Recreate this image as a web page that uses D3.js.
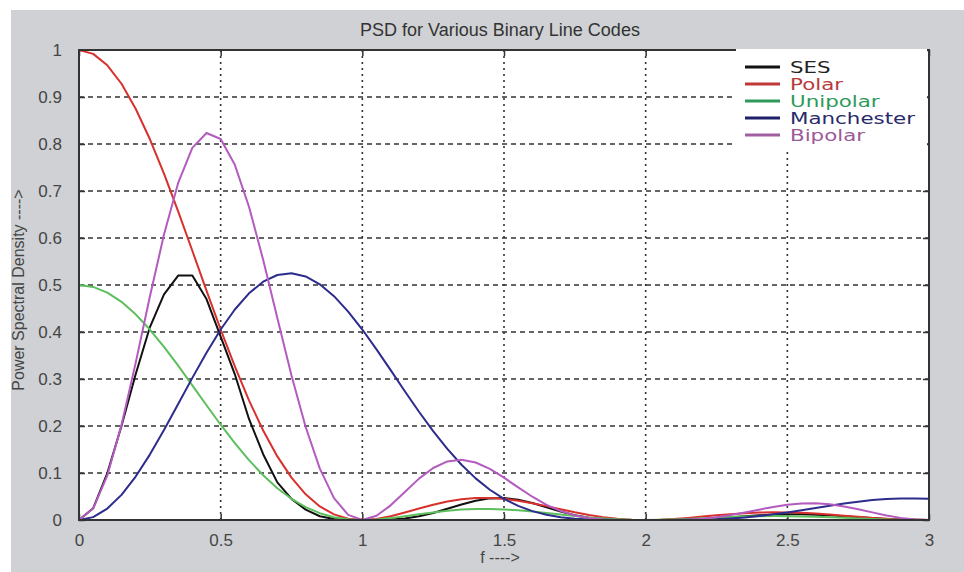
<!DOCTYPE html>
<html>
<head>
<meta charset="utf-8">
<script src="https://cdn.jsdelivr.net/npm/d3@7"></script>
<style>
  html, body { margin: 0; padding: 0; background: #ffffff; }
  svg { display: block; }
</style>
</head>
<body>
<svg id="chart" width="964" height="572"></svg>
<script>
// ---------- data ----------
const title = "PSD for Various Binary Line Codes";
const xLabel = "f ---->";
const yLabel = "Power Spectral Density ---->";

const freq = [0,0.05,0.1,0.15,0.2,0.25,0.3,0.35,0.4,0.45,0.5,
  0.55,0.6,0.65,0.7,0.75,0.8,0.85,0.9,0.95,1.0,
  1.05,1.1,1.15,1.2,1.25,1.3,1.35,1.4,1.45,1.5,
  1.55,1.6,1.65,1.7,1.75,1.8,1.85,1.9,1.95,2.0,
  2.05,2.1,2.15,2.2,2.25,2.3,2.35,2.4,2.45,2.5,
  2.55,2.6,2.65,2.7,2.75,2.8,2.85,2.9,2.95,3.0];

const seriesNames = ["SES","Polar","Unipolar","Manchester","Bipolar"];

const ses = [0,0.025,0.10,0.20,0.31,0.41,0.48,0.52,0.52,0.47,0.39,
  0.31,0.215,0.14,0.08,0.045,0.022,0.008,0.002,0.0005,0,
  0,0.001,0.003,0.008,0.015,0.024,0.033,0.041,0.046,0.047,
  0.043,0.036,0.027,0.018,0.010,0.005,0.002,0.0005,0,0,
  0,0.0005,0.001,0.002,0.004,0.006,0.008,0.010,0.011,0.012,
  0.012,0.011,0.010,0.008,0.006,0.004,0.002,0.001,0.0003,0];

const polar = [1,0.9918,0.9675,0.9282,0.8751,0.8106,0.7368,0.6566,0.5728,0.4881,0.4053,
  0.3267,0.2546,0.1904,0.1353,0.0901,0.0547,0.0289,0.0119,0.0027,0,
  0.0023,0.0080,0.0158,0.0243,0.0324,0.0392,0.0441,0.0468,0.0470,0.0450,
  0.0411,0.0358,0.0295,0.0229,0.0165,0.0108,0.0061,0.0027,0.0007,0,
  0.0006,0.0022,0.0045,0.0072,0.0100,0.0125,0.0146,0.0159,0.0165,0.0162,
  0.0152,0.0136,0.0115,0.0091,0.0067,0.0045,0.0026,0.0011,0.0003,0];

const unipolar = [0.5,0.4959,0.4838,0.4641,0.4376,0.4053,0.3684,0.3283,0.2864,0.2441,0.2027,
  0.1634,0.1273,0.0952,0.0677,0.0451,0.0274,0.0145,0.0060,0.0014,0,
  0.0011,0.0040,0.0079,0.0122,0.0162,0.0196,0.0221,0.0234,0.0235,0.0225,
  0.0206,0.0179,0.0148,0.0115,0.0083,0.0054,0.0031,0.0014,0.0003,0,
  0.0003,0.0011,0.0023,0.0036,0.0050,0.0063,0.0073,0.0080,0.0083,0.0081,
  0.0076,0.0068,0.0058,0.0046,0.0034,0.0023,0.0013,0.0006,0.0002,0];

const manchester = [0,0.0061,0.0243,0.0535,0.0924,0.1391,0.1913,0.2466,0.3024,0.3560,0.4053,
  0.4479,0.4823,0.5070,0.5213,0.5250,0.5181,0.5015,0.4762,0.4435,0.4053,
  0.3631,0.3188,0.2740,0.2303,0.1890,0.1512,0.1175,0.0886,0.0644,0.0450,
  0.0300,0.0189,0.0111,0.0060,0.0028,0.0011,0.0004,0.0001,0,0,
  0,0.0001,0.0003,0.0008,0.0017,0.0033,0.0055,0.0084,0.0120,0.0162,
  0.0208,0.0257,0.0305,0.0350,0.0390,0.0423,0.0446,0.0459,0.0460,0.0450];

const bipolar = [0,0.0244,0.0948,0.2023,0.3343,0.4749,0.6075,0.7171,0.7917,0.8234,0.8106,
  0.7557,0.6665,0.5536,0.4298,0.3075,0.1979,0.1093,0.0466,0.0109,0,
  0.0089,0.0312,0.0597,0.0880,0.1107,0.1247,0.1283,0.1224,0.1087,0.0900,
  0.0694,0.0495,0.0323,0.0191,0.0096,0.0041,0.0013,0.0003,0,0,
  0,0.0002,0.0010,0.0027,0.0058,0.0105,0.0160,0.0220,0.0278,0.0324,
  0.0351,0.0355,0.0333,0.0289,0.0228,0.0162,0.0097,0.0045,0.0011,0];

const xTicks = [0,0.5,1,1.5,2,2.5,3];
const xTickLabels = ["0","0.5","1","1.5","2","2.5","3"];
const yTicks = [0,0.1,0.2,0.3,0.4,0.5,0.6,0.7,0.8,0.9,1];
const yTickLabels = ["0","0.1","0.2","0.3","0.4","0.5","0.6","0.7","0.8","0.9","1"];

// ---------- styles ----------
const lineColors = ["#111111","#d8302c","#5cbf5c","#2c2c8c","#b35bbf"];
const legendTextColors = ["#222222","#b83a3a","#2e9a5a","#2a2a6a","#9a5a9a"];
const legendLineColors = ["#111111","#c03838","#2e9a5a","#20206a","#a060a0"];

const svg = d3.select("#chart");
const W = 964, H = 572;
const L = 79, R = 929, T = 50, B = 520;

// background
svg.append("rect").attr("x",0).attr("y",0).attr("width",W).attr("height",H).attr("fill","#ffffff");
svg.append("rect").attr("x",11).attr("y",10).attr("width",W-11).attr("height",H-10).attr("fill","#cfd1d4");
svg.append("rect").attr("x",L).attr("y",T).attr("width",R-L).attr("height",B-T).attr("fill","#ffffff");

const x = d3.scaleLinear().domain([0,3]).range([L,R]);
const y = d3.scaleLinear().domain([0,1]).range([B,T]);

// grid
const grid = svg.append("g");
grid.selectAll("line.h").data(yTicks.filter(v => v > 0 && v < 1)).enter().append("line")
  .attr("x1",L).attr("x2",R).attr("y1",d=>y(d)).attr("y2",d=>y(d))
  .attr("stroke","#333").attr("stroke-width",1.3).attr("stroke-dasharray","5,4");
grid.selectAll("line.v").data(xTicks.filter(v => v > 0 && v < 3)).enter().append("line")
  .attr("y1",T).attr("y2",B).attr("x1",d=>x(d)).attr("x2",d=>x(d))
  .attr("stroke","#333").attr("stroke-width",1.6).attr("stroke-dasharray","2,4");

// axes (labels + inward ticks)
const tickFont = "'Liberation Sans', Arial, sans-serif";
const xAxis = d3.axisBottom(x).tickValues(xTicks).tickSize(-6).tickPadding(14)
  .tickFormat((d,i) => xTickLabels[i]);
const gx = svg.append("g").attr("transform",`translate(0,${B})`).call(xAxis);
const yAxis = d3.axisLeft(y).tickValues(yTicks).tickSize(-6).tickPadding(17)
  .tickFormat((d,i) => yTickLabels[i]);
const gy = svg.append("g").attr("transform",`translate(${L},0)`).call(yAxis);
const xAxisTop = d3.axisTop(x).tickValues(xTicks).tickSize(-6).tickFormat("");
svg.append("g").attr("transform",`translate(0,${T})`).call(xAxisTop);
const yAxisRight = d3.axisRight(y).tickValues(yTicks).tickSize(-6).tickFormat("");
svg.append("g").attr("transform",`translate(${R},0)`).call(yAxisRight);
svg.selectAll(".domain").remove();
svg.selectAll(".tick line").attr("stroke","#333").attr("stroke-width",1.5);
[gx, gy].forEach(g => g.selectAll("text")
  .attr("font-family", tickFont).attr("font-size", 17).attr("fill","#454545"));

// curves
const clipId = "plotclip";
svg.append("clipPath").attr("id",clipId).append("rect")
  .attr("x",L).attr("y",T-2).attr("width",R-L).attr("height",B-T+2);
const allSeries = [ses, polar, unipolar, manchester, bipolar];
const line = d3.line().x((d,i)=>x(freq[i])).y(d=>y(d));
const curves = svg.append("g").attr("clip-path",`url(#${clipId})`);
allSeries.forEach((s, k) => {
  curves.append("path").datum(s)
    .attr("d", line)
    .attr("fill","none")
    .attr("stroke", lineColors[k])
    .attr("stroke-width", 2)
    .attr("stroke-linejoin","round");
});

// box
svg.append("rect").attr("x",L).attr("y",T).attr("width",R-L).attr("height",B-T)
  .attr("fill","none").attr("stroke","#333").attr("stroke-width",2);

// legend
const lg = svg.append("g");
lg.append("rect").attr("x",736).attr("y",49).attr("width",191).attr("height",99).attr("fill","#ffffff");
const rowY = [67, 84, 101, 118, 135];
seriesNames.forEach((name, k) => {
  lg.append("line").attr("x1",745).attr("x2",780).attr("y1",rowY[k]).attr("y2",rowY[k])
    .attr("stroke", legendLineColors[k]).attr("stroke-width",3);
});
const texts = lg.selectAll("text.lt").data(seriesNames).enter().append("text")
  .attr("class","lt")
  .attr("x",790).attr("y",(d,k)=>rowY[k] + 6)
  .attr("font-family","'DejaVu Sans', sans-serif").attr("font-size",15)
  .attr("fill",(d,k)=>legendTextColors[k])
  .text(d=>d);
// stretch the legend labels horizontally to the reference's wide face
const natM = texts.filter(d => d === "Manchester").node().getComputedTextLength();
const factor = 125 / natM;
texts.each(function(){
  const w = this.getComputedTextLength();
  d3.select(this).attr("textLength", w*factor).attr("lengthAdjust","spacingAndGlyphs");
});

// re-draw right border over legend
svg.append("line").attr("x1",R).attr("x2",R).attr("y1",T).attr("y2",B)
  .attr("stroke","#333").attr("stroke-width",2);

// title & axis labels
svg.append("text").attr("x",500).attr("y",36).attr("text-anchor","middle")
  .attr("font-family",tickFont).attr("font-size",18).attr("fill","#333")
  .text(title);
svg.append("text").attr("x",500).attr("y",563).attr("text-anchor","middle")
  .attr("font-family",tickFont).attr("font-size",16).attr("fill","#454545")
  .text(xLabel);
svg.append("text").attr("transform","translate(24,290) rotate(-90)").attr("text-anchor","middle")
  .attr("font-family",tickFont).attr("font-size",16).attr("fill","#454545")
  .text(yLabel);
</script>
</body>
</html>
